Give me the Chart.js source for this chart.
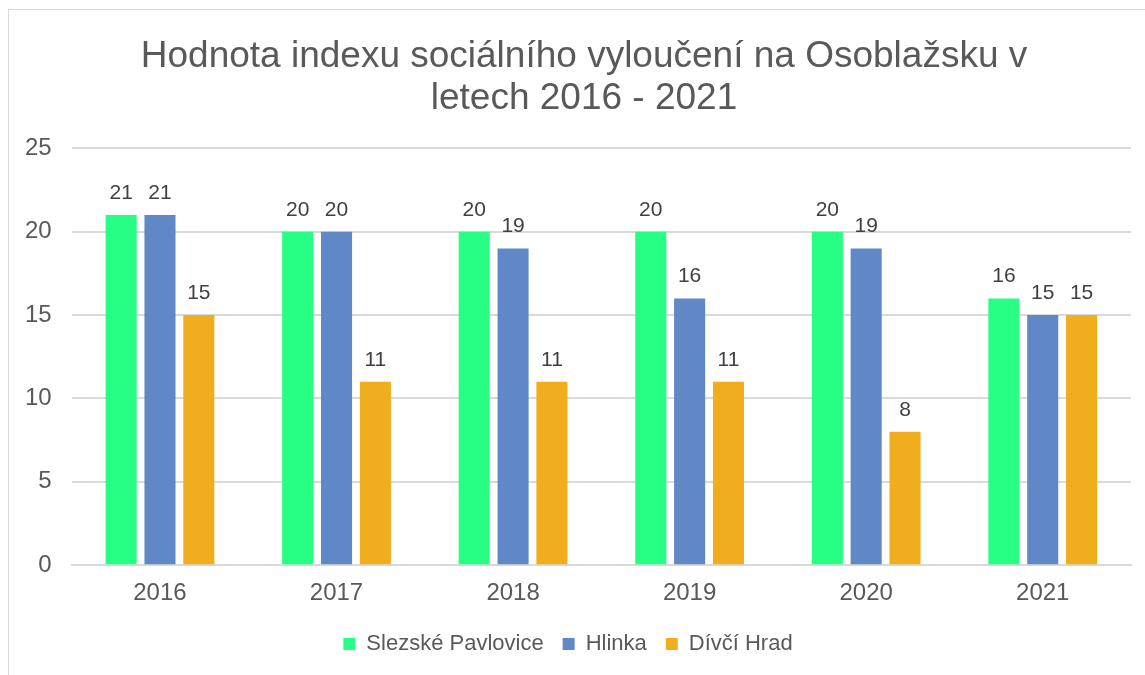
<!DOCTYPE html>
<html>
<head>
<meta charset="utf-8">
<script src="https://cdn.jsdelivr.net/npm/chart.js@4.4.1/dist/chart.umd.min.js"></script>
<style>
  html, body { margin: 0; padding: 0; background: #fff; }
  #ramec {
    position: absolute; left: 8px; top: 9px; width: 1200px; height: 700px;
    border: 1px solid #d9d9d9; box-sizing: border-box;
  }
  #obal { position: absolute; left: 0; top: 0; width: 1145px; height: 675px; }
</style>
</head>
<body>
<div id="ramec"></div>
<div id="obal"><canvas id="graf"></canvas></div>
<script>
/* ================= DATA ================= */

const roky = ["2016", "2017", "2018", "2019", "2020", "2021"];
const slezskePavlovice = [21, 20, 20, 20, 20, 16];
const hlinka = [21, 20, 19, 16, 19, 15];
const divciHrad = [15, 11, 11, 11, 8, 15];
const nadpis = ["Hodnota indexu sociálního vyloučení na Osoblažsku v", "letech 2016 - 2021"];

/* ================= POPISKY ================= */

const popiskyHodnot = {
  id: "popiskyHodnot",
  afterDatasetsDraw(chart) {
    const ctx = chart.ctx;
    ctx.save();
    ctx.font = "21px 'Liberation Sans', Arial, sans-serif";
    ctx.fillStyle = "#404040";
    ctx.textAlign = "center";
    ctx.textBaseline = "alphabetic";
    chart.data.datasets.forEach((ds, i) => {
      chart.getDatasetMeta(i).data.forEach((bar, j) => {
        ctx.fillText(ds.data[j], bar.x, bar.y - 16);
      });
    });
    ctx.restore();
  }
};

// nadpis v originale je posunuty kousek doprava (stred ramecku)
const posunNadpisu = {
  id: "posunNadpisu",
  afterLayout(chart) {
    if (chart.titleBlock) {
      chart.titleBlock.left += 16;
      chart.titleBlock.right += 16;
    }
  }
};

/* ================= GRAF ================= */

new Chart(document.getElementById("graf"), {
  type: "bar",
  data: {
    labels: roky,
    datasets: [
      { label: "Slezské Pavlovice", data: slezskePavlovice, backgroundColor: "#26FF84" },
      { label: "Hlinka", data: hlinka, backgroundColor: "#6088C6" },
      { label: "Dívčí Hrad", data: divciHrad, backgroundColor: "#F0AD1E" }
    ]
  },
  options: {
    responsive: true,
    maintainAspectRatio: false,
    animation: false,
    datasets: { bar: { barPercentage: 0.8, categoryPercentage: 0.66 } },
    layout: { padding: { left: 5, right: 14, top: 36, bottom: 10 } },
    scales: {
      x: {
        grid: { display: false },
        border: { color: "#d9d9d9", width: 2 },
        ticks: { color: "#595959", font: { size: 24, family: "'Liberation Sans', Arial" }, padding: 6 }
      },
      y: {
        min: 0, max: 25,
        ticks: { stepSize: 5, color: "#595959", font: { size: 24, family: "'Liberation Sans', Arial" }, padding: 20 },
        grid: { color: "#d9d9d9", lineWidth: 2, drawTicks: false },
        border: { display: false }
      }
    },
    plugins: {
      title: {
        display: true,
        text: nadpis,
        color: "#595959",
        font: { size: 37, weight: "normal", family: "'Liberation Sans', Arial", lineHeight: 1.14 },
        padding: { top: 0, bottom: 28 }
      },
      legend: {
        position: "bottom",
        labels: {
          color: "#595959",
          font: { size: 22, family: "'Liberation Sans', Arial" },
          boxWidth: 12, boxHeight: 12, padding: 19
        }
      },
      tooltip: { enabled: false }
    }
  },
  plugins: [popiskyHodnot, posunNadpisu]
});
</script>
</body>
</html>
